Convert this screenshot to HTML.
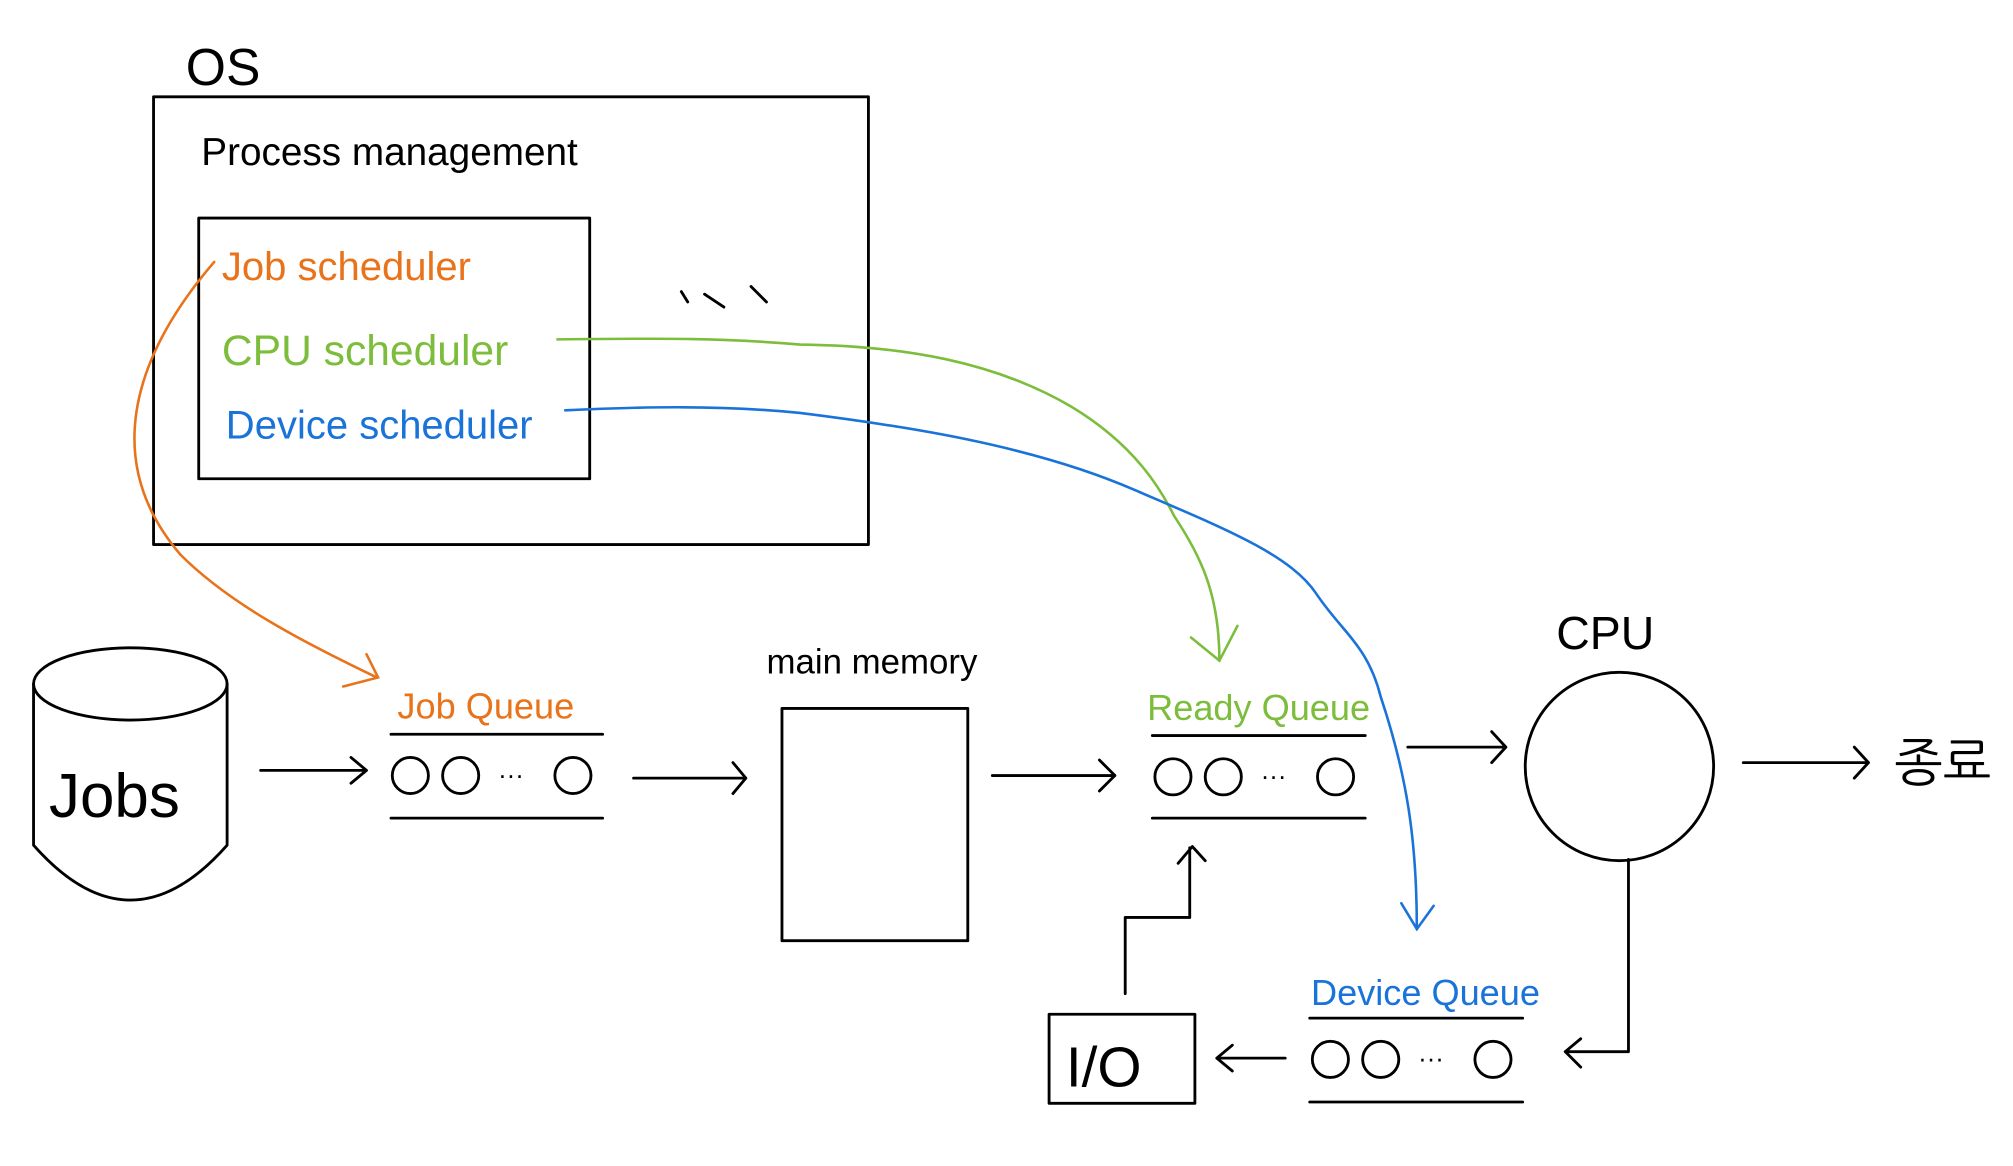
<!DOCTYPE html>
<html><head><meta charset="utf-8"><style>
html,body{margin:0;padding:0;background:#fff;}
svg{display:block;}
text{font-family:"Liberation Sans","NanumGothic",sans-serif;}
</style></head><body>
<svg width="2013" height="1166" viewBox="0 0 1560 903.6" preserveAspectRatio="none" xmlns="http://www.w3.org/2000/svg">
<g fill="none" stroke="#000" stroke-width="2.2" stroke-linecap="round" stroke-linejoin="round">
  <rect x="119" y="75" width="554" height="347"/>
  <rect x="154" y="169" width="303" height="202"/>
  <!-- Jobs cylinder -->
  <ellipse cx="101" cy="530" rx="75" ry="28"/>
  <path d="M26 530 V655 Q101 740 176 655 V530"/>
  <!-- queues -->
  <path d="M303 569 H467 M303 634 H467"/>
  <circle cx="318" cy="601" r="14"/><circle cx="357" cy="601" r="14"/><circle cx="444" cy="601" r="14"/>
  <path d="M893 570 H1058 M893 634 H1058"/>
  <circle cx="909" cy="602" r="14"/><circle cx="948" cy="602" r="14"/><circle cx="1035" cy="602" r="14"/>
  <path d="M1015 789 H1180 M1015 854 H1180"/>
  <circle cx="1031" cy="821" r="14"/><circle cx="1070" cy="821" r="14"/><circle cx="1157" cy="821" r="14"/>
  <rect x="606" y="549" width="144" height="180"/>
  <circle cx="1255" cy="594" r="73"/>
  <rect x="813" y="786" width="113" height="69"/>
  <!-- arrows -->
  <path d="M202 597 H284 M272 587 L284 597 L272 607"/>
  <path d="M491 603 H578 M568 591 L578 603 L568 615"/>
  <path d="M769 601 H864 M852 589 L864 601 L852 613"/>
  <path d="M1091 579 H1166 M1156 567 L1167 579 L1156 591"/>
  <path d="M1351 591 H1448 M1437 579 L1448 591 L1437 603"/>
  <path d="M1262 666 V815 H1213 M1225 805 L1213 815 L1225 827"/>
  <path d="M996 820 H943 M955 810 L943 820 L955 830"/>
  <path d="M872 770 V711 H922 V657 M913 669 L924 656 L934 667"/>
  <path d="M528 226 L533 234 M546 228 L561 238 M582 222 L594 234"/>
</g>
<g stroke="#e8731a" stroke-width="2" fill="none" stroke-linecap="round">
  <path d="M166 203 C100 280 80 360 140 430 C180 470 240 500 292 525"/>
  <path d="M284 507 L293 525 L266 532"/>
</g>
<g stroke="#7cbd3c" stroke-width="2" fill="none" stroke-linecap="round">
  <path d="M432 263 C520 262 560 262 620 267 C700 268 770 280 830 315 C880 345 900 380 910 400 C930 430 945 460 945 512"/>
  <path d="M923 494 L945 512 L959 485"/>
</g>
<g stroke="#1a73d9" stroke-width="2" fill="none" stroke-linecap="round">
  <path d="M438 318 C500 315 560 314 620 320 C700 330 800 345 880 380 C950 410 1000 430 1020 460 C1040 490 1060 500 1070 540 C1090 600 1098 650 1098 720"/>
  <path d="M1086 700 L1098 720 L1111 702"/>
</g>
<g font-size="34">
  <text x="144" y="66" font-size="40">OS</text>
  <text x="156" y="128" font-size="30">Process management</text>
  <text x="172" y="217" fill="#e8731a" font-size="31">Job scheduler</text>
  <text x="172" y="283" fill="#7cbd3c" font-size="33">CPU scheduler</text>
  <text x="175" y="340" fill="#1a73d9" font-size="31">Device scheduler</text>
  <text x="38" y="633" font-size="48">Jobs</text>
  <text x="308" y="557" fill="#e8731a" font-size="28">Job Queue</text>
  <text x="594" y="522" font-size="27">main memory</text>
  <text x="889" y="558" fill="#7cbd3c" font-size="28">Ready Queue</text>
  <text x="1206" y="503" font-size="36">CPU</text>
  <text x="1016" y="779" fill="#1a73d9" font-size="28">Device Queue</text>
  <text x="826" y="842" font-size="44">I/O</text>
  <text x="1468" y="605" font-size="40">종료</text>
  <text x="386" y="607" font-size="20">···</text>
  <text x="977" y="608" font-size="20">···</text>
  <text x="1099" y="827" font-size="20">···</text>
</g>
</svg>
</body></html>
